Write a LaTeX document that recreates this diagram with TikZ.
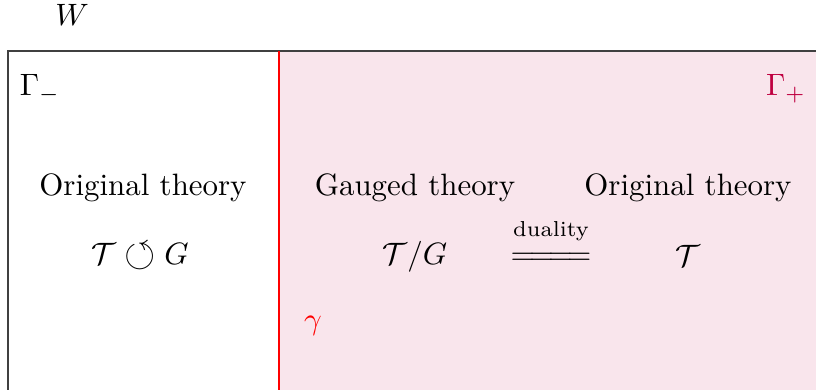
\documentclass[tikz,border=0pt]{standalone}
\usepackage{amsmath}
\usepackage{amssymb}
\usepackage{xcolor}
\usetikzlibrary{positioning}

\begin{document}
\begin{tikzpicture}[
    x=0.3236pt, y=-0.3236pt,
    side/.style={inner sep=0pt, anchor=base},
    theory/.style={inner sep=0pt, anchor=base},
    wall/.style={draw=red, line width=0.5pt}
]
\useasboundingbox (0,0) rectangle (816,390);
\clip (0,0) rectangle (816,390);

% Regions of the worldsheet
\fill[purple!10] (279,51) rectangle (840,410);
\draw[line width=0.45pt, black!75] (8,410) -- (8,51) -- (840,51);
\draw[wall] (279,51) coordinate (wtop) -- (279,410) coordinate (wbot);

% Labels
\node[side] (w) at (72,26) {$W$};
\node[side] (gminus) at (40,96) {$\Gamma_-$};
\node[side, text=purple] (gplus) at (786,96) {$\Gamma_+$};
\node[side, text=red] (gamma) at (313,330) {$\gamma$};

% Theories
\node[theory] (orig1) at (143,195) {Original theory};
\node[theory] (gauged) at (415,195) {Gauged theory};
\node[theory] (orig2) at (688,195) {Original theory};

\node[theory] (tg) at (140,265) {$\mathcal{T} \mathrel{\raisebox{-0.15ex}{\scalebox{1.3}{$\circlearrowleft$}}} G$};
\node[theory] (tmodg) at (415,265) {$\mathcal{T}/G$};
\node[theory] (dual) at (551,264) {$=\!=\!=\!=$};
\node[inner sep=0pt, above=3.5pt of dual, font=\scriptsize] (dualtxt) {duality};
\node[theory] (t) at (688,267) {$\mathcal{T}$};

\end{tikzpicture}
\end{document}
